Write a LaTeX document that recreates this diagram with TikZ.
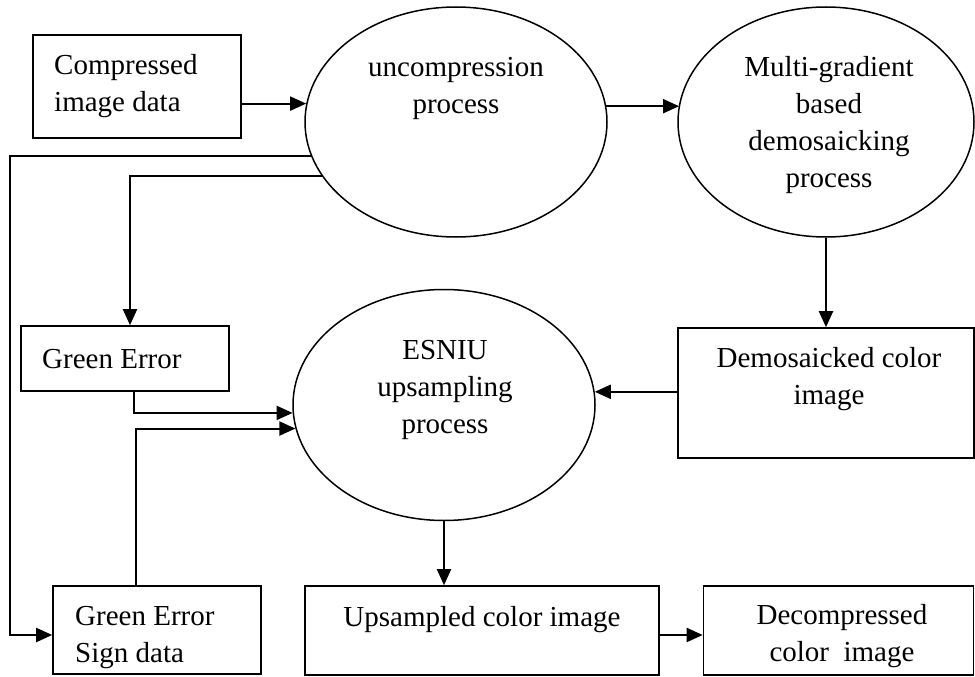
\documentclass[tikz,border=0pt]{standalone}
\usepackage{fontspec}
\setmainfont{Liberation Serif}
\usetikzlibrary{shapes.geometric,arrows.meta}
\tikzset{
  box/.style={draw, rectangle, line width=1.6pt, inner sep=0pt},
  proc/.style={draw, ellipse, line width=1.5pt, inner sep=0pt},
  txt/.style={inner sep=0pt, align=center, font=\fontsize{29}{37}\selectfont},
  conn/.style={line width=2pt, -{Triangle[length=16pt,width=14pt]}}
}
\begin{document}
\begin{tikzpicture}[x=1pt,y=-1pt]
\useasboundingbox (0,0) rectangle (975,677);
% boxes
\node[box, minimum width=208pt, minimum height=103pt] (cid) at (137,86.5) {};
\node[box, minimum width=208pt, minimum height=65pt] (ge) at (125,358.5) {};
\node[box, minimum width=208pt, minimum height=88pt] (sg) at (157,630) {};
\node[box, minimum width=354pt, minimum height=89pt] (up) at (482,630.5) {};
\node[box, minimum width=270pt, minimum height=89pt] (dc) at (838.5,630.5) {};
\node[box, minimum width=296pt, minimum height=130pt] (dm) at (826,393) {};
% ellipses
\node[proc, minimum width=302pt, minimum height=230pt] (u1) at (456,122) {};
\node[proc, minimum width=296pt, minimum height=230pt] (mg) at (826,122) {};
\node[proc, minimum width=302pt, minimum height=231pt] (es) at (444,405) {};
% texts
\node[txt, align=left, anchor=west] (cidt) at (54,86.5) {Compressed\\image data};
\node[txt] (u1t) at (456,88) {uncompression\\process};
\node[txt] (mgt) at (829,125) {Multi-gradient\\based\\demosaicking\\process};
\node[txt] (est) at (445,390) {ESNIU\\upsampling\\process};
\node[txt] (dmt) at (829,379.5) {Demosaicked color\\image};
\node[txt, anchor=west] (get) at (42,359) {Green Error};
\node[txt, align=left, anchor=west] (sgt) at (75,637.5) {Green Error\\Sign data};
\node[txt] (upt) at (482,620) {Upsampled color image};
\node[txt] (dct) at (842,636.5) {Decompressed\\color~~image};
% helper coordinates
\coordinate (lx) at (10,0);
\coordinate (sgin) at ([yshift=-5pt]sg.west);
% connectors
\draw[conn] (cid.east |- u1.173.5) -- (u1.173.5);
\draw[conn] (u1.6.5) -- (u1.6.5 -| mg.173.4);
\draw[conn] (mg.south) -- (dm.north);
\draw[conn] (es.5.3 -| dm.west) -- (es.5.3);
\draw[conn] (u1.202.5) -| ([xshift=5pt]ge.north);
\draw[conn] (u1.193) -- (u1.193 -| lx) |- (sgin);
\draw[conn] ([xshift=9pt]ge.south) |- (es.183);
\draw[conn] ([xshift=-21pt]sg.north) |- (es.189.6);
\draw[conn] (es.south) -- (es.south |- up.north);
\draw[conn] ([yshift=-4.5pt]up.east) -- ([yshift=-4.5pt]dc.west);
\end{tikzpicture}
\end{document}
